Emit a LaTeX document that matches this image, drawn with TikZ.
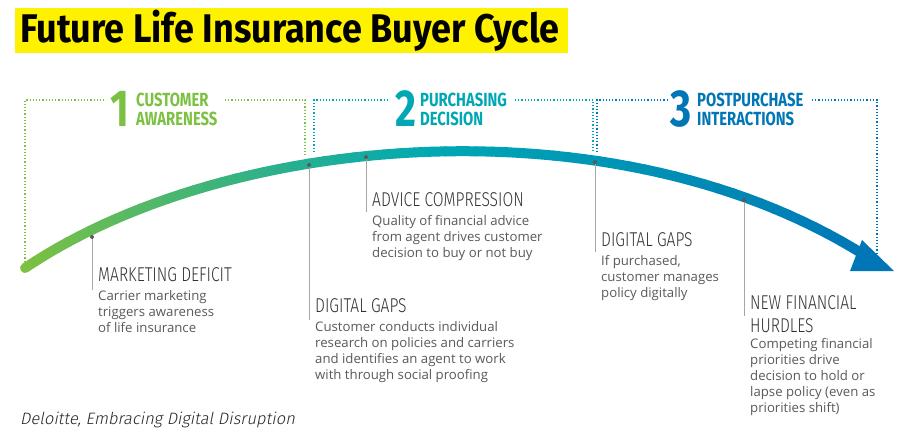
\documentclass[tikz,border=0pt]{standalone}
\usepackage{fontspec}
\setmainfont{Open Sans}
\newfontfamily\condb[FakeStretch=0.78]{Fira Sans}
\newfontfamily\titlef[FakeStretch=0.9]{Fira Sans}
\newfontfamily\condl[FakeStretch=0.78]{Fira Sans Light}
\newfontfamily\capf[FakeSlant=0.2]{Fira Sans Light}
\definecolor{cgreen}{RGB}{124,193,66}
\definecolor{cteal}{RGB}{0,168,180}
\definecolor{cblue}{RGB}{0,118,182}
\definecolor{cgray}{RGB}{90,90,90}
\definecolor{cyel}{RGB}{255,242,0}
\tikzset{
  brk/.style={dotted, line width=1.2pt},
  lead/.style={draw=gray!70, line width=0.8pt},
  dotm/.style={circle, fill=cgray, inner sep=0pt, minimum size=4pt},
  head/.style={anchor=north west, inner sep=0pt, align=left, font=\condl\fontsize{20}{23}\selectfont, text=black!80},
  body/.style={anchor=north west, inner sep=0pt, align=left, font=\fontsize{13.2}{16}\selectfont, text=cgray},
  num/.style={anchor=west, inner sep=0pt, font=\condb\bfseries\fontsize{52}{52}\selectfont},
  lab/.style={anchor=west, inner sep=0pt, align=left, font=\condb\bfseries\fontsize{19}{19}\selectfont},
}
\begin{document}
\begin{tikzpicture}[x=1pt,y=-1pt]
\useasboundingbox (0,0) rectangle (900,432);
\fill[white] (0,0) rectangle (900,432);
\fill[cyel] (15,8) rectangle (568,53);
\node[anchor=west, inner sep=0pt, font=\titlef\bfseries\fontsize{40}{40}\selectfont] (title) at (20,31) {Future Life Insurance Buyer Cycle};
% brackets
\draw[brk, cgreen] (25,265) -- (25,100) -- (105,100);
\draw[brk, cgreen] (225,100) -- (305,100) -- (305,155);
\draw[brk, cteal] (314,152) -- (314,100) -- (390,100);
\draw[brk, cteal] (515,100) -- (593,100) -- (593,152);
\draw[brk, cblue] (597,152) -- (597,100) -- (668,100);
\draw[brk, cblue] (812,100) -- (877,100) -- (877,253);
% section labels
\node[num, text=cgreen] (n1) at (110,109) {1};
\node[lab, text=cgreen] (l1) at (136,109) {CUSTOMER\\AWARENESS};
\node[num, text=cteal] (n2) at (395,109) {2};
\node[lab, text=cteal] (l2) at (420,109) {PURCHASING\\DECISION};
\node[num, text=cblue] (n3) at (670,109) {3};
\node[lab, text=cblue] (l3) at (697,109) {POSTPURCHASE\\INTERACTIONS};
% curve
\path (25,268) .. controls (230,130) and (620,100) .. (866,256)
  \foreach \i in {0,...,60} { coordinate[pos=\i/60] (c\i) };
\foreach \i in {0,...,29} {
  \pgfmathtruncatemacro{\j}{\i+1}
  \pgfmathtruncatemacro{\pp}{\i*100/30}
  \draw[line width=10pt, line cap=round, color=cteal!\pp!cgreen] (c\i) -- (c\j);
}
\foreach \i in {30,...,59} {
  \pgfmathtruncatemacro{\j}{\i+1}
  \pgfmathtruncatemacro{\pp}{(\i-30)*100/30}
  \draw[line width=10pt, line cap=round, color=cblue!\pp!cteal] (c\i) -- (c\j);
}
\fill[cblue] (894,271) -- (862,240) -- (850,271) -- cycle;
% markers
\foreach \n/\x/\y/\yy in {m1/92/237/290, m2/309/165/320, m3/366/157/212, m4/595/162/252, m5/744/200/316} {
  \node[dotm] (\n) at (\x,\y) {};
  \coordinate (\n e) at (\x,\yy);
  \draw[lead] (\n) -- (\n e);
}
\node[head] (h1) at (98,267) {MARKETING DEFICIT};
\node[body] (b1) at (98,290) {Carrier marketing\\triggers awareness\\of life insurance};
\node[head] (h2) at (315,298) {DIGITAL GAPS};
\node[body] (b2) at (315,321) {Customer conducts individual\\research on policies and carriers\\and identifies an agent to work\\with through social proofing};
\node[head] (h3) at (372,192) {ADVICE COMPRESSION};
\node[body] (b3) at (372,215) {Quality of financial advice\\from agent drives customer\\decision to buy or not buy};
\node[head] (h4) at (601,232) {DIGITAL GAPS};
\node[body] (b4) at (601,255) {If purchased,\\customer manages\\policy digitally};
\node[head] (h5) at (750,295) {NEW FINANCIAL\\HURDLES};
\node[body] (b5) at (750,338) {Competing financial\\priorities drive\\decision to hold or\\lapse policy (even as\\priorities shift)};
\node[anchor=west, inner sep=0pt, font=\capf\fontsize{16.5}{18}\selectfont, text=black!85] (cap) at (20,420) {Deloitte, Embracing Digital Disruption};
\end{tikzpicture}
\end{document}
